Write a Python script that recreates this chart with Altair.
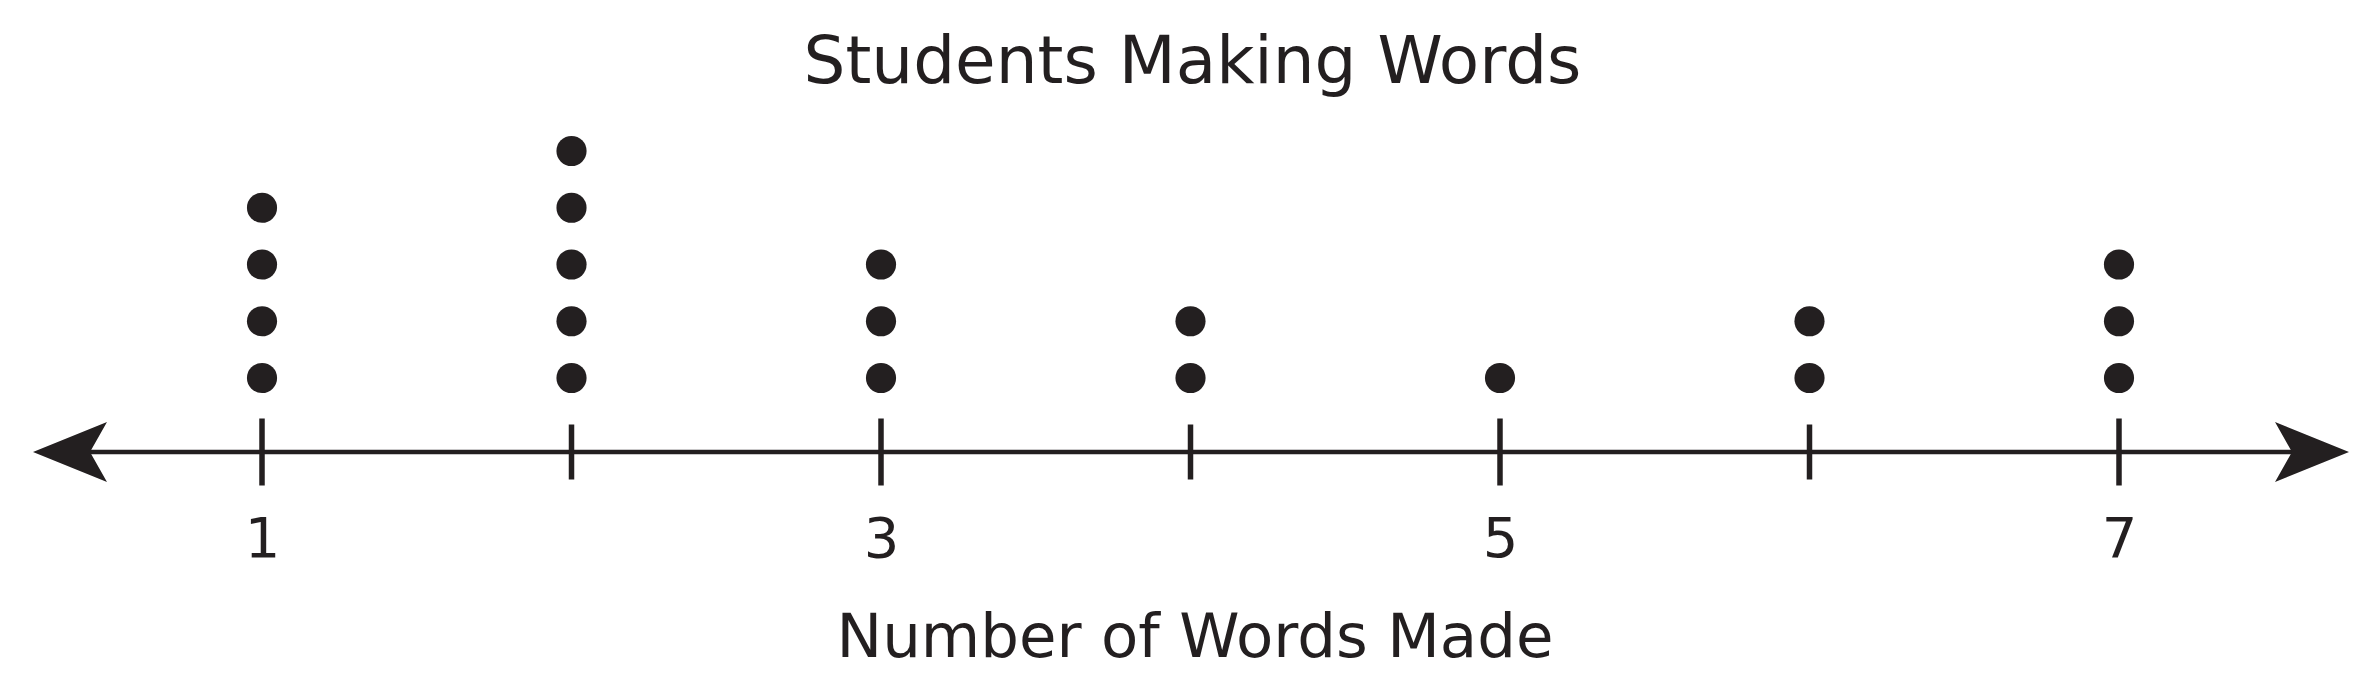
import altair as alt
import pandas as pd

# ---- data ----
word_values = [1, 2, 3, 4, 5, 6, 7]
student_counts = [4, 5, 3, 2, 1, 2, 3]
labeled_ticks = [1, 3, 5, 7]
unlabeled_ticks = [2, 4, 6]
x_domain = [0.1793, 7.7916]          # number-line range shown
line_ends = [0.35, 7.65]             # extent of the number line
arrow_left = [0.3796]
arrow_right = [7.6236]
y_domain = [0, 5.8855]               # stack height range (0 = number line)

title_text = "Students Making Words"
x_title = "Number of Words Made"

INK = "#231f20"
FONT = "DejaVu Sans"

dots = pd.DataFrame(
    [{"words": v, "n": i} for v, c in zip(word_values, student_counts) for i in range(1, c + 1)]
)
major_df = pd.DataFrame({"words": labeled_ticks})
minor_df = pd.DataFrame({"words": unlabeled_ticks})
line_df = pd.DataFrame({"words": [line_ends[0]], "x2": [line_ends[1]]})
left_df = pd.DataFrame({"words": arrow_left})
right_df = pd.DataFrame({"words": arrow_right})

xs = alt.Scale(domain=x_domain, nice=False, zero=False)
ys = alt.Scale(domain=y_domain, nice=False, zero=False)

x_axis = alt.Axis(
    values=labeled_ticks,
    format="d",
    domain=False,
    ticks=False,
    tickSize=0,
    grid=False,
    labelFont=FONT,
    labelFontSize=56,
    labelColor=INK,
    labelPadding=60,
    title=x_title,
    titleFont=FONT,
    titleFontSize=61,
    titleFontWeight="normal",
    titleColor=INK,
    titleBaseline="alphabetic",
    titleAlign="center",
    titleX=1186.5,
    titleY=204,
)


def xenc(field="words:Q"):
    return alt.X(field, scale=xs, axis=x_axis, title=x_title)


y_base = alt.Y(datum=0, scale=ys, axis=None)

points = alt.Chart(dots).mark_circle(
    size=908, color=INK, opacity=1, yOffset=-17.25
).encode(
    x=xenc(),
    y=alt.Y("n:Q", scale=ys, axis=None),
)

axis_line = alt.Chart(line_df).mark_rule(color=INK, strokeWidth=4.5).encode(
    x=xenc(),
    x2="x2:Q",
    y=y_base,
)

major = alt.Chart(major_df).mark_tick(
    orient="vertical", color=INK, thickness=5.5, size=67, opacity=1
).encode(x=xenc(), y=y_base)

minor = alt.Chart(minor_df).mark_tick(
    orient="vertical", color=INK, thickness=5.5, size=55, opacity=1
).encode(x=xenc(), y=y_base)

left_arrow = alt.Chart(left_df).mark_point(
    shape="M -1 0 L 1 -0.811 L 0.541 0 L 1 0.811 Z",
    filled=True, size=5476, color=INK, opacity=1, strokeWidth=0,
).encode(x=xenc(), y=y_base)

right_arrow = alt.Chart(right_df).mark_point(
    shape="M 1 0 L -1 -0.811 L -0.541 0 L -1 0.811 Z",
    filled=True, size=5476, color=INK, opacity=1, strokeWidth=0,
).encode(x=xenc(), y=y_base)

chart = alt.layer(
    points, axis_line, major, minor, left_arrow, right_arrow
).properties(
    width=2356,
    height=334,
    background="white",
    title=alt.TitleParams(
        text=title_text,
        font=FONT,
        fontSize=66,
        fontWeight="normal",
        color=INK,
        anchor="middle",
        frame="group",
        offset=21,
        dx=6.5,
    ),
    autosize=alt.AutoSizeParams(type="none"),
    padding={"left": 0, "top": 110, "right": 0, "bottom": 229},
).configure_view(stroke=None)

chart.save("out.html", embed_options={"renderer": "svg", "actions": False})
